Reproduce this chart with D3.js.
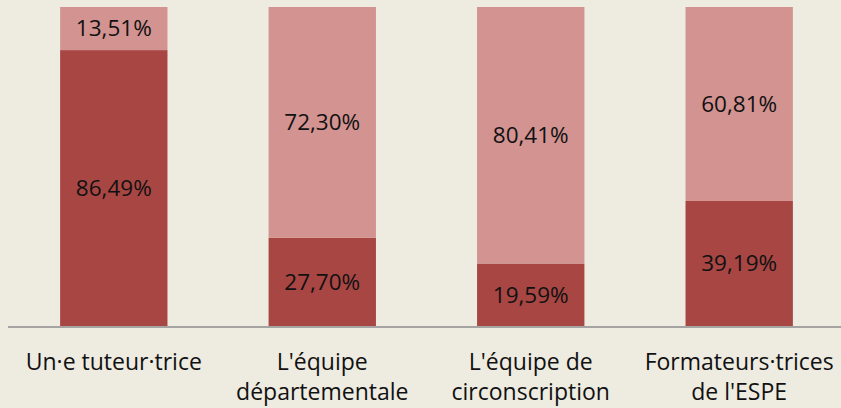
<!doctype html>
<html>
  <head>
    <meta charset="utf-8">
    <script src="https://cdnjs.cloudflare.com/ajax/libs/d3/7.8.5/d3.min.js"></script>
    <style>
      body { margin: 0; background: #EEEBE1; }
      text { font-family: "Open Sans", "Noto Sans", sans-serif; fill: #111; }
    </style>
  </head>
  <body>
    <svg></svg>
    <script>
      var width = 841,
          height = 408;

      var categories = [["Un·e tuteur·trice"], ["L'équipe", "départementale"], ["L'équipe de", "circonscription"], ["Formateurs·trices", "de l'ESPE"]];
      var oui = [86.49, 27.70, 19.59, 39.19];
      var non = [13.51, 72.30, 80.41, 60.81];

      var svg = d3.select("svg").attr("width", width).attr("height", height);
      svg.append("rect").attr("width", width).attr("height", height).attr("fill", "#EEEBE1");

      var x = d3.scaleBand().domain(d3.range(categories.length)).range([8, 845]).paddingInner(0.485).paddingOuter(0.25);
      var y = d3.scaleLinear().domain([0, 100]).range([326, 7]);

      var fmt = function(v) { return v.toFixed(2).replace(".", ",") + "%"; };

      var g = svg.selectAll("g.bar").data(categories).enter().append("g").attr("class", "bar");

      // bas : foncé
      g.append("rect")
        .attr("x", function(d, i) { return x(i); })
        .attr("width", x.bandwidth())
        .attr("y", function(d, i) { return y(oui[i]); })
        .attr("height", function(d, i) { return y(0) - y(oui[i]); })
        .attr("fill", "#A84644");
      // haut : clair
      g.append("rect")
        .attr("x", function(d, i) { return x(i); })
        .attr("width", x.bandwidth())
        .attr("y", function(d, i) { return y(oui[i] + non[i]); })
        .attr("height", function(d, i) { return y(oui[i]) - y(oui[i] + non[i]); })
        .attr("fill", "#D39391");

      g.append("text")
        .attr("x", function(d, i) { return x(i) + x.bandwidth() / 2; })
        .attr("y", function(d, i) { return (y(0) + y(oui[i])) / 2; })
        .attr("dy", "0.35em").attr("text-anchor", "middle").attr("font-size", 22.5)
        .text(function(d, i) { return fmt(oui[i]); });
      g.append("text")
        .attr("x", function(d, i) { return x(i) + x.bandwidth() / 2; })
        .attr("y", function(d, i) { return (y(oui[i]) + y(oui[i] + non[i])) / 2; })
        .attr("dy", "0.35em").attr("text-anchor", "middle").attr("font-size", 22.5)
        .text(function(d, i) { return fmt(non[i]); });

      // axe
      svg.append("line").attr("x1", 8).attr("x2", width).attr("y1", 327).attr("y2", 327)
        .attr("stroke", "#8C8C8C").attr("stroke-width", 1.5);

      g.each(function(d, i) {
        var t = d3.select(this).append("text")
          .attr("text-anchor", "middle").attr("font-size", 23)
          .attr("x", x(i) + x.bandwidth() / 2).attr("y", 370);
        d.forEach(function(line, j) {
          t.append("tspan").attr("x", x(i) + x.bandwidth() / 2).attr("dy", j ? 30 : 0).text(line);
        });
      });
    </script>
  </body>
</html>
